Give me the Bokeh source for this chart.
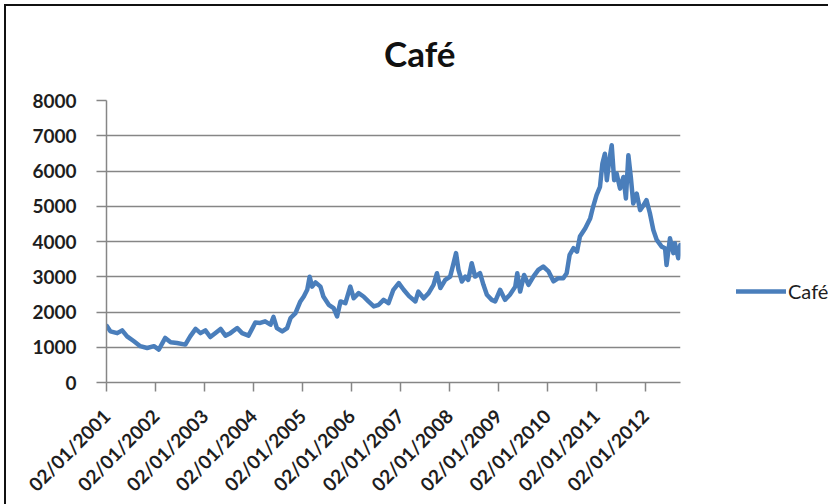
import math
from bokeh.plotting import figure
from bokeh.models import Range1d, FixedTicker, Legend, LegendItem
from bokeh.embed import file_html
from bokeh.resources import INLINE

title_text = "Café"
series_name = "Café"

# time in fractional years
t_years = [
    2001.01, 2001.08, 2001.22, 2001.32, 2001.42, 2001.56, 2001.69, 2001.83, 2001.97,
    2002.07, 2002.20, 2002.31, 2002.44, 2002.61, 2002.71, 2002.82, 2002.92,
    2003.02, 2003.12, 2003.22, 2003.33, 2003.43, 2003.53, 2003.67, 2003.77, 2003.90,
    2004.04, 2004.14, 2004.24, 2004.35, 2004.41, 2004.48, 2004.59, 2004.69, 2004.76, 2004.86, 2004.96,
    2005.03, 2005.10, 2005.15, 2005.20, 2005.27, 2005.37, 2005.43, 2005.54, 2005.64, 2005.71, 2005.78, 2005.88, 2005.98,
    2006.05, 2006.15, 2006.25, 2006.35, 2006.46, 2006.56, 2006.66, 2006.76, 2006.86, 2006.97,
    2007.07, 2007.18, 2007.31, 2007.37, 2007.48, 2007.58, 2007.68, 2007.75, 2007.82, 2007.92,
    2008.02, 2008.09, 2008.14, 2008.19, 2008.26, 2008.33, 2008.39, 2008.46, 2008.53, 2008.63, 2008.70, 2008.77, 2008.87, 2008.94,
    2009.04, 2009.14, 2009.24, 2009.35, 2009.39, 2009.45, 2009.53, 2009.62, 2009.72, 2009.82, 2009.92,
    2010.03, 2010.13, 2010.23, 2010.33, 2010.40, 2010.46, 2010.54, 2010.61, 2010.67, 2010.78, 2010.88, 2010.94,
    2011.01, 2011.08, 2011.13, 2011.18, 2011.22, 2011.27, 2011.32, 2011.37, 2011.42, 2011.49, 2011.56, 2011.61,
    2011.66, 2011.71, 2011.76, 2011.83, 2011.90, 2011.97,
    2012.03, 2012.10, 2012.17, 2012.24, 2012.34, 2012.41, 2012.44, 2012.51, 2012.58, 2012.61, 2012.68, 2012.72,
]
cafe = [
    1600, 1450, 1400, 1480, 1310, 1170, 1030, 980, 1030,
    935, 1265, 1140, 1120, 1075, 1310, 1520, 1400,
    1480, 1290, 1400, 1520, 1330, 1400, 1545, 1400, 1330,
    1700, 1690, 1735, 1640, 1860, 1545, 1450, 1545, 1830, 1970, 2300,
    2440, 2630, 3000, 2720, 2840, 2720, 2440, 2205, 2110, 1875, 2300, 2250, 2720,
    2390, 2535, 2440, 2300, 2160, 2205, 2345, 2250, 2630, 2820,
    2630, 2450, 2300, 2580, 2390, 2535, 2770, 3100, 2680, 2910,
    3005, 3385, 3670, 3195, 2865, 3005, 2910, 3385, 3005, 3100, 2770, 2490, 2345, 2300,
    2630, 2345, 2490, 2720, 3100, 2580, 3050, 2770, 3005, 3195, 3290,
    3150, 2870, 2960, 2960, 3100, 3620, 3810, 3710, 4140, 4375, 4655, 4985,
    5315, 5550, 6210, 6490, 5740, 6300, 6730, 5740, 5930, 5500, 5830, 5220,
    6445, 5830, 5080, 5360, 4890, 5030,
    5175, 4800, 4325, 4045, 3855, 3810, 3335, 4090, 3670, 3950, 3525, 3900,
]

tick_years = [2001, 2002, 2003, 2004, 2005, 2006, 2007, 2008, 2009, 2010, 2011, 2012]
tick_labels = ["02/01/2001", "02/01/2002", "02/01/2003", "02/01/2004", "02/01/2005", "02/01/2006",
               "02/01/2007", "02/01/2008", "02/01/2009", "02/01/2010", "02/01/2011", "02/01/2012"]
y_ticks = [0, 1000, 2000, 3000, 4000, 5000, 6000, 7000, 8000]

FONT = "Lato"
GRID = "#868686"
TXT = "#1e1e1e"
BLUE = "#4a7ebb"

p = figure(frame_width=574, frame_height=282, output_backend="svg", toolbar_location=None,
           x_range=Range1d(2001.0, 2012.725), y_range=Range1d(0, 8000),
           min_border_left=100, min_border_right=144, min_border_top=94, min_border_bottom=118)
p.styles = {"border-left": "2px solid #111", "border-top": "2px solid #111",
            "margin-left": "4px", "margin-top": "4px"}
p.outline_line_color = None
p.background_fill_color = "white"
p.border_fill_color = "white"

# em spaces shift the centred title to the right, as in the reference
p.title.text = "\u2003\u2003" + title_text
p.title.align = "center"
p.title.vertical_align = "top"
p.title.standoff = 49
p.title.text_font = FONT
p.title.text_font_size = "35px"
p.title.text_font_style = "bold"
p.title.text_color = "#111"

r = p.line(t_years, cafe, line_color=BLUE, line_width=4.5, line_join="round", line_cap="round")

p.xgrid.grid_line_color = None
p.ygrid.grid_line_color = GRID
p.ygrid.grid_line_width = 1.5

p.yaxis.ticker = FixedTicker(ticks=y_ticks)
p.xaxis.ticker = FixedTicker(ticks=tick_years)
p.xaxis.major_label_overrides = {y: lab for y, lab in zip(tick_years, tick_labels)}
p.xaxis.major_label_orientation = math.pi / 4

for ax in (p.xaxis, p.yaxis):
    ax.axis_line_color = GRID
    ax.axis_line_width = 1.5
    ax.major_tick_line_color = GRID
    ax.major_tick_line_width = 1.5
    ax.major_tick_in = 0
    ax.minor_tick_line_color = None
    ax.major_label_text_font = FONT
    ax.major_label_text_font_size = "19px"
    ax.major_label_text_color = TXT
    ax.major_label_text_font_style = "bold"
p.xaxis.major_tick_out = 9
p.yaxis.major_tick_out = 10
p.yaxis.major_label_standoff = 20
p.xaxis.major_label_standoff = 21

legend = Legend(items=[LegendItem(label=series_name, renderers=[r])], location=(56, 79),
                glyph_width=50, glyph_height=20, label_standoff=2, padding=0, margin=0,
                border_line_color=None, background_fill_alpha=0,
                label_text_font=FONT, label_text_font_size="20px", label_text_color=TXT)
p.add_layout(legend, "right")

open("out.html", "w").write(file_html(p, INLINE))
